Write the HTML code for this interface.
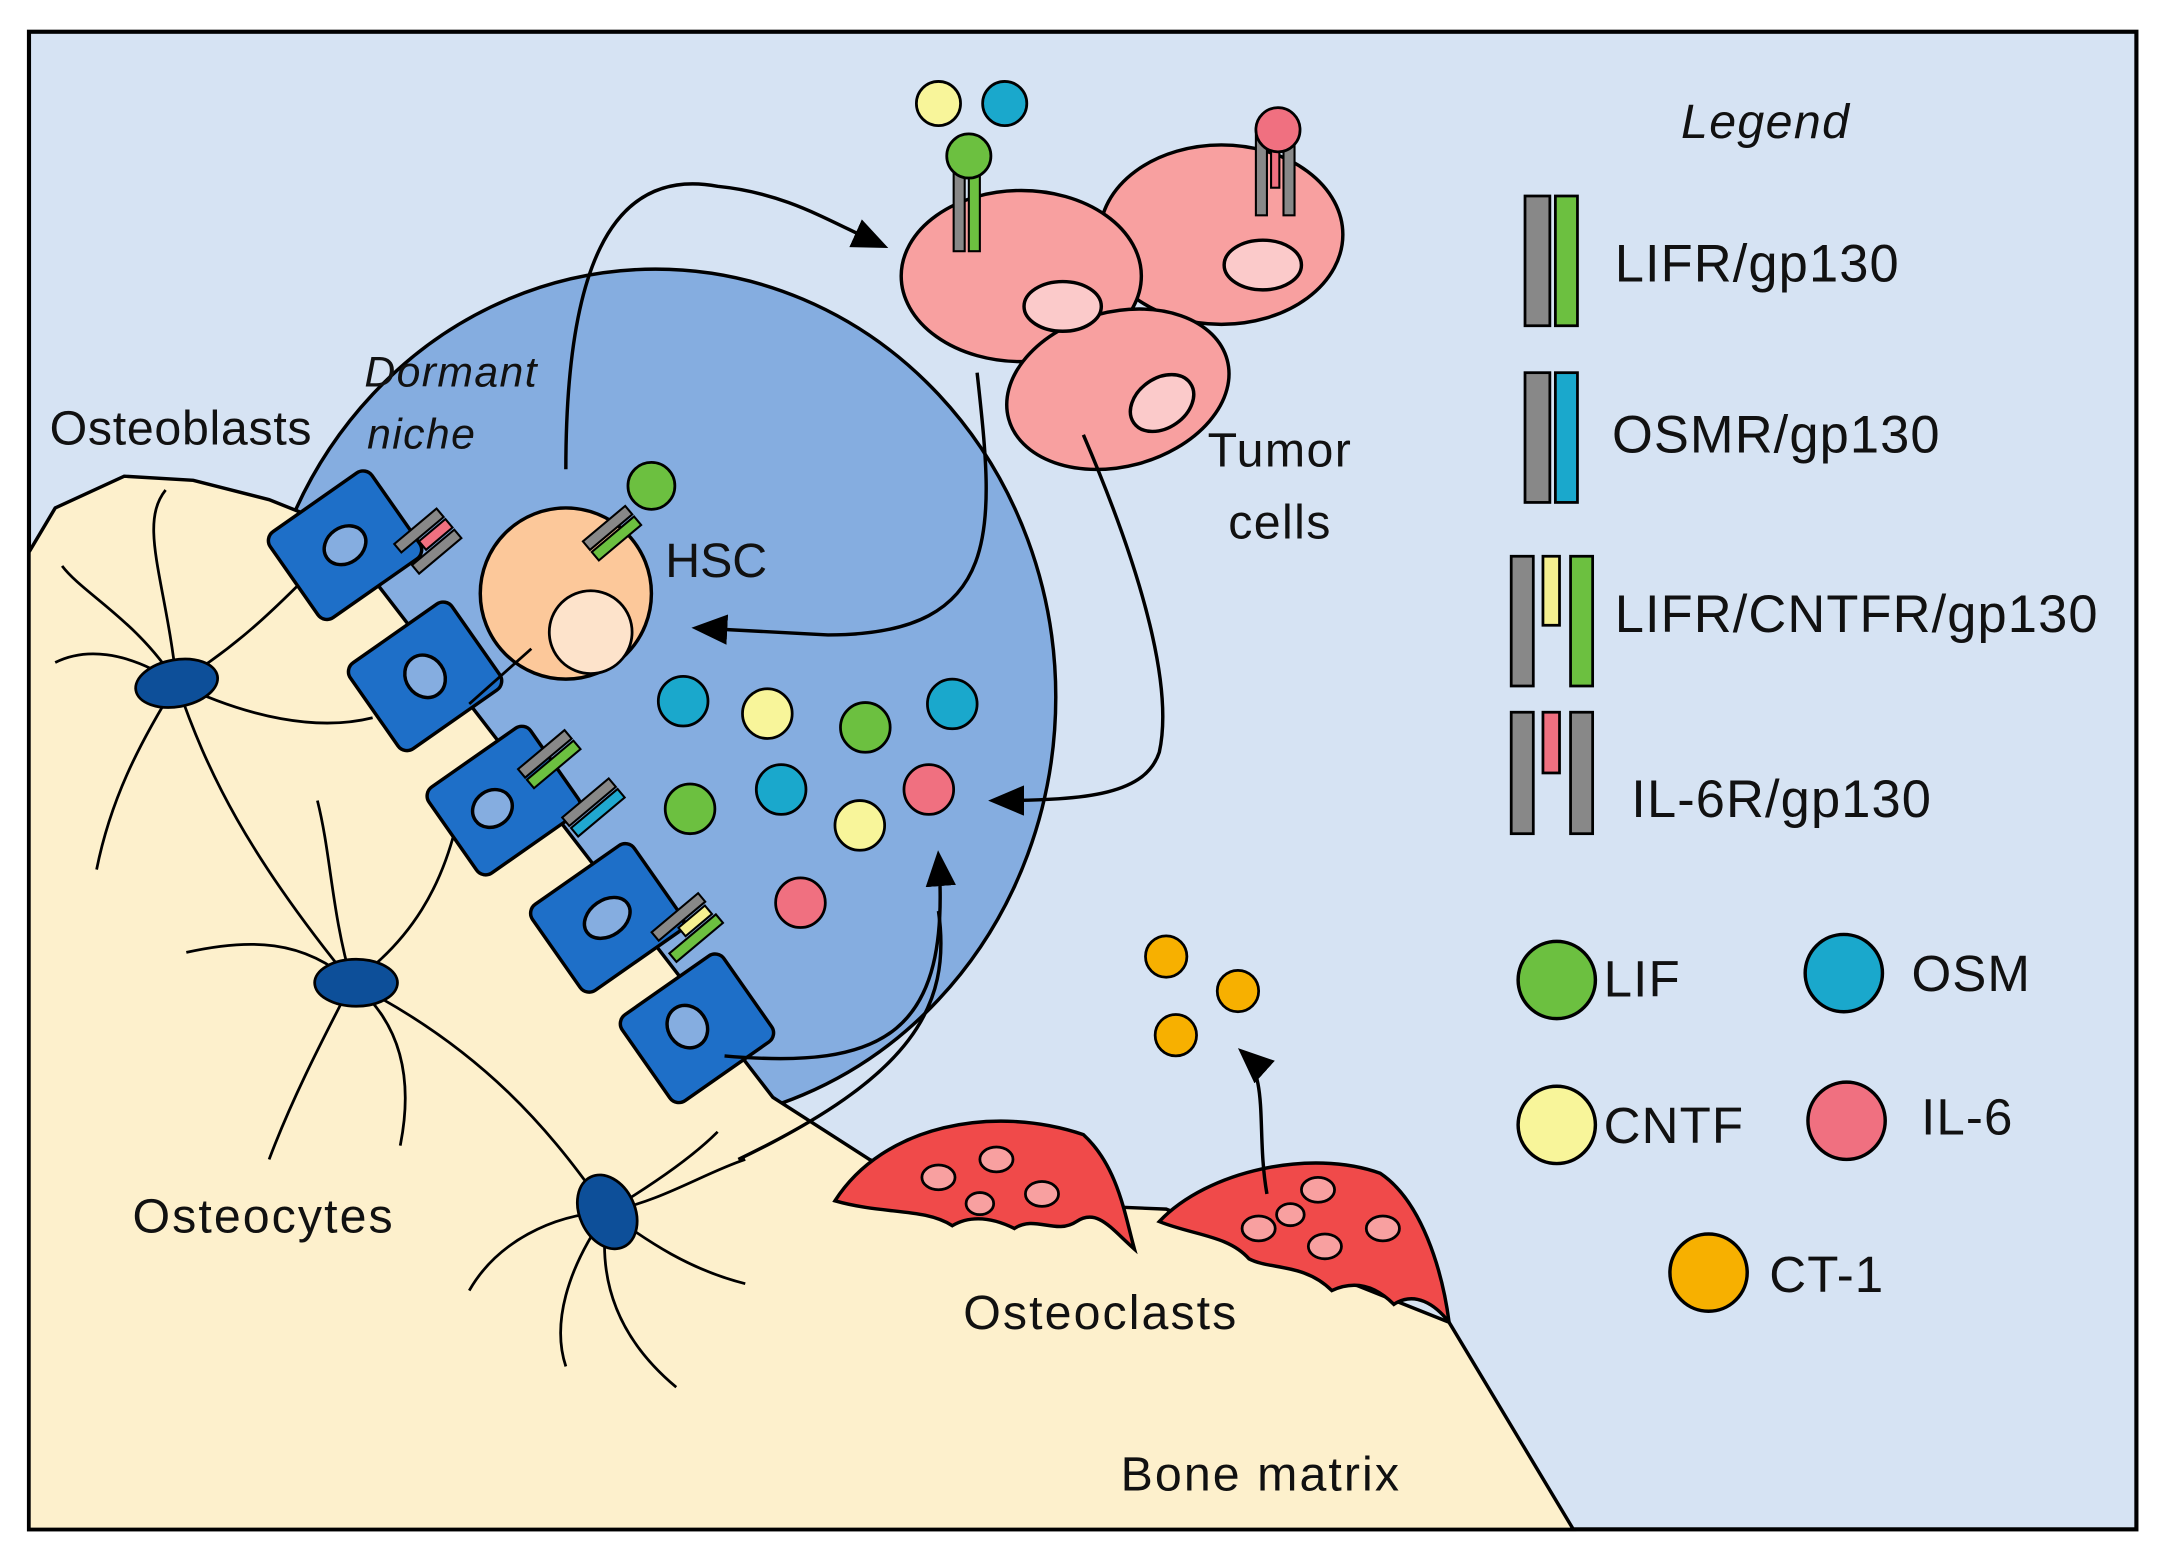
<!DOCTYPE html>
<html><head><meta charset="utf-8"><style>
html,body{margin:0;padding:0;background:#fff}
svg{display:block}
text{font-family:"Liberation Sans",sans-serif;fill:#111}
</style></head><body>
<svg width="2164" height="1568" viewBox="0 0 1568 1136" preserveAspectRatio="none" xmlns="http://www.w3.org/2000/svg">
<defs>
<marker id="ah2" markerWidth="26" markerHeight="22" refX="22" refY="11" orient="auto" markerUnits="userSpaceOnUse" viewBox="0 0 26 22">
<path d="M0,0 L26,11 L0,22 z" fill="#000"/></marker>
</defs>
<rect x="0" y="0" width="1568" height="1136" fill="#fff"/>
<rect x="21" y="23" width="1527" height="1085" fill="#d6e3f3" stroke="#000" stroke-width="3"/>
<ellipse cx="475" cy="505" rx="290" ry="310" fill="#85ade0" stroke="#000" stroke-width="2.5"/>
<path d="M21,400 L40,368 L90,345 L140,348 L195,362 L240,380 L560,795 L630,840 L700,870 L845,876 L1050,958 L1140,1108 L21,1108 Z" fill="#fdf0cc" stroke="#000" stroke-width="2.5"/>
<g fill="none" stroke="#000" stroke-width="2">
<path d="M128,495 C100,450 60,430 45,410"/><path d="M128,495 C120,420 100,380 120,355"/>
<path d="M128,495 C170,470 200,440 220,420"/><path d="M128,495 C180,520 230,530 270,520"/>
<path d="M128,495 C100,540 80,580 70,630"/><path d="M128,495 C150,560 180,620 255,712"/>
<path d="M128,495 C90,470 60,470 40,480"/>
<path d="M255,712 C220,680 180,680 135,690"/><path d="M255,712 C240,660 240,620 230,580"/>
<path d="M255,712 C300,680 320,640 330,600"/><path d="M255,712 C290,740 300,780 290,830"/>
<path d="M255,712 C230,760 210,800 195,840"/><path d="M255,712 C350,760 400,820 440,878"/>
<path d="M440,878 C400,880 360,900 340,935"/><path d="M440,878 C430,940 460,980 490,1005"/>
<path d="M440,878 C410,920 400,960 410,990"/><path d="M440,878 C480,870 510,850 540,840"/>
<path d="M440,878 C470,860 500,840 520,820"/><path d="M440,878 C470,900 500,920 540,930"/>
</g>
<g fill="#0d4f99" stroke="#000" stroke-width="2">
<ellipse cx="128" cy="495" rx="30" ry="17" transform="rotate(-10 128 495)"/>
<ellipse cx="258" cy="712" rx="30" ry="17"/>
<ellipse cx="440" cy="878" rx="20" ry="28" transform="rotate(-25 440 878)"/>
</g>
<g fill="#1e6fc8" stroke="#000" stroke-width="2.5">
<g transform="translate(250,395) rotate(-35)"><rect x="-45" y="-38" width="90" height="76" rx="8"/><ellipse cx="0" cy="0" rx="16" ry="13" fill="#85ade0"/></g>
<g transform="translate(308,490) rotate(-35)"><rect x="-45" y="-38" width="90" height="76" rx="8"/><ellipse cx="0" cy="0" rx="14" ry="16" fill="#85ade0"/></g>
<g transform="translate(365,580) rotate(-35)"><rect x="-45" y="-38" width="90" height="76" rx="8"/><ellipse cx="-10" cy="0" rx="15" ry="13" fill="#85ade0"/></g>
<g transform="translate(440,665) rotate(-35)"><rect x="-45" y="-38" width="90" height="76" rx="8"/><ellipse cx="0" cy="0" rx="18" ry="13" fill="#85ade0"/></g>
<g transform="translate(505,745) rotate(-35)"><rect x="-45" y="-38" width="90" height="76" rx="8"/><ellipse cx="-5" cy="-5" rx="14" ry="16" fill="#85ade0"/></g>
</g>
<g stroke="#000" stroke-width="1.5">
<g transform="translate(310,392) rotate(-40)"><rect x="-20" y="-14" width="40" height="8" fill="#888"/><rect x="-5" y="-4" width="25" height="8" fill="#f07080"/><rect x="-20" y="6" width="40" height="8" fill="#888"/></g>
<g transform="translate(398,550) rotate(-40)"><rect x="-22" y="-9" width="44" height="8" fill="#888"/><rect x="-22" y="1" width="44" height="8" fill="#6cc040"/></g>
<g transform="translate(430,585) rotate(-40)"><rect x="-22" y="-9" width="44" height="8" fill="#888"/><rect x="-22" y="1" width="44" height="8" fill="#20a8d0"/></g>
<g transform="translate(498,672) rotate(-40)"><rect x="-22" y="-14" width="44" height="8" fill="#888"/><rect x="-5" y="-4" width="25" height="8" fill="#f5f090"/><rect x="-22" y="6" width="44" height="8" fill="#6cc040"/></g>
</g>
<circle cx="410" cy="430" r="62" fill="#fcc89a" stroke="#000" stroke-width="2.5"/>
<circle cx="428" cy="458" r="30" fill="#fde3cb" stroke="#000" stroke-width="2"/>
<g transform="translate(445,385) rotate(-40)" stroke="#000" stroke-width="1.5"><rect x="-22" y="-9" width="40" height="8" fill="#888"/><rect x="-22" y="1" width="40" height="8" fill="#6cc040"/></g>
<circle cx="472" cy="352" r="17" fill="#6cc040" stroke="#000" stroke-width="2"/>
<line x1="340" y1="510" x2="385" y2="470" stroke="#000" stroke-width="2"/>
<g stroke="#000" stroke-width="2.5">
<ellipse cx="885" cy="170" rx="88" ry="65" fill="#f8a0a0"/>
<ellipse cx="740" cy="200" rx="87" ry="62" fill="#f8a0a0"/>
<ellipse cx="810" cy="282" rx="82" ry="56" transform="rotate(-15 810 282)" fill="#f8a0a0"/>
<ellipse cx="770" cy="222" rx="28" ry="18" fill="#fbcaca"/>
<ellipse cx="915" cy="192" rx="28" ry="18" fill="#fbcaca"/>
<ellipse cx="842" cy="292" rx="25" ry="18" transform="rotate(-35 842 292)" fill="#fbcaca"/>
</g>
<g stroke="#000" stroke-width="1.5">
<rect x="691" y="120" width="8" height="62" fill="#888"/><rect x="702" y="120" width="8" height="62" fill="#6cc040"/>
<rect x="910" y="98" width="8" height="58" fill="#888"/><rect x="921" y="108" width="6" height="28" fill="#f07080"/><rect x="930" y="98" width="8" height="58" fill="#888"/>
</g>
<circle cx="702" cy="113" r="16" fill="#6cc040" stroke="#000" stroke-width="2"/>
<circle cx="926" cy="94" r="16" fill="#f07080" stroke="#000" stroke-width="2"/>
<circle cx="680" cy="75" r="16" fill="#f8f59a" stroke="#000" stroke-width="2"/>
<circle cx="728" cy="75" r="16" fill="#1aa8cc" stroke="#000" stroke-width="2"/>
<g stroke="#000" stroke-width="2">
<circle cx="495" cy="508" r="18" fill="#1aa8cc"/><circle cx="556" cy="517" r="18" fill="#f8f59a"/>
<circle cx="627" cy="527" r="18" fill="#6cc040"/><circle cx="690" cy="510" r="18" fill="#1aa8cc"/>
<circle cx="500" cy="586" r="18" fill="#6cc040"/><circle cx="566" cy="572" r="18" fill="#1aa8cc"/>
<circle cx="623" cy="598" r="18" fill="#f8f59a"/><circle cx="673" cy="572" r="18" fill="#f07080"/>
<circle cx="580" cy="654" r="18" fill="#f07080"/>
<circle cx="845" cy="693" r="15" fill="#f7b000"/><circle cx="897" cy="718" r="15" fill="#f7b000"/><circle cx="852" cy="750" r="15" fill="#f7b000"/>
</g>
<g stroke="#000" stroke-width="2.5" fill="#f04a4a">
<path d="M605,870 C640,815 720,800 785,822 C810,845 815,880 822,905 C805,890 795,875 780,885 C765,895 750,880 735,890 C715,880 700,882 690,888 C670,875 640,880 605,870 Z"/>
<path d="M840,885 C875,848 950,832 1000,850 C1030,870 1045,920 1050,958 C1040,945 1025,935 1010,945 C995,930 980,928 965,935 C945,915 920,920 905,912 C890,895 865,895 840,885 Z"/>
</g>
<g fill="#f8a0a0" stroke="#000" stroke-width="2">
<ellipse cx="680" cy="853" rx="12" ry="9"/><ellipse cx="722" cy="840" rx="12" ry="9"/><ellipse cx="755" cy="865" rx="12" ry="9"/><ellipse cx="710" cy="872" rx="10" ry="8"/>
<ellipse cx="912" cy="890" rx="12" ry="9"/><ellipse cx="955" cy="862" rx="12" ry="9"/><ellipse cx="960" cy="903" rx="12" ry="9"/><ellipse cx="1002" cy="890" rx="12" ry="9"/><ellipse cx="935" cy="880" rx="10" ry="8"/>
</g>
<g fill="none" stroke="#000" stroke-width="2.5">
<path d="M410,340 C410,200 440,120 520,135 C570,140 600,160 640,178" marker-end="url(#ah2)"/>
<path d="M708,270 C720,380 730,460 600,460 L505,455" marker-end="url(#ah2)"/>
<path d="M785,315 C830,420 850,500 840,545 C830,575 790,580 720,580" marker-end="url(#ah2)"/>
<path d="M525,765 C640,775 690,750 680,620" marker-end="url(#ah2)"/>
<path d="M535,840 C660,780 690,730 680,660"/>
<path d="M918,865 C910,820 920,780 900,762" marker-end="url(#ah2)"/>
</g>
<text x="36" y="322" font-size="35" letter-spacing="0.5">Osteoblasts</text>
<text x="264" y="280" font-size="31" font-style="italic" letter-spacing="1">Dormant</text>
<text x="266" y="325" font-size="31" font-style="italic" letter-spacing="1">niche</text>
<text x="482" y="418" font-size="35">HSC</text>
<text x="875" y="338" font-size="35" letter-spacing="1">Tumor</text>
<text x="890" y="390" font-size="35" letter-spacing="1">cells</text>
<text x="96" y="893" font-size="35" letter-spacing="1.5">Osteocytes</text>
<text x="698" y="963" font-size="35" letter-spacing="1.5">Osteoclasts</text>
<text x="812" y="1080" font-size="35" letter-spacing="1.5">Bone matrix</text>
<text x="1218" y="100" font-size="35" font-style="italic" letter-spacing="1">Legend</text>
<g stroke="#000" stroke-width="2">
<rect x="1105" y="142" width="18" height="94" fill="#888"/><rect x="1127" y="142" width="16" height="94" fill="#6cc040"/>
<rect x="1105" y="270" width="18" height="94" fill="#888"/><rect x="1127" y="270" width="16" height="94" fill="#1aa8cc"/>
<rect x="1095" y="403" width="16" height="94" fill="#888"/><rect x="1118" y="403" width="12" height="50" fill="#f5f090"/><rect x="1138" y="403" width="16" height="94" fill="#6cc040"/>
<rect x="1095" y="516" width="16" height="88" fill="#888"/><rect x="1118" y="516" width="12" height="44" fill="#f07080"/><rect x="1138" y="516" width="16" height="88" fill="#888"/>
</g>
<g font-size="38" letter-spacing="0.8">
<text x="1170" y="204">LIFR/gp130</text>
<text x="1168" y="328">OSMR/gp130</text>
<text x="1170" y="458">LIFR/CNTFR/gp130</text>
<text x="1182" y="592">IL-6R/gp130</text>
</g>
<g stroke="#000" stroke-width="2.5">
<circle cx="1128" cy="710" r="28" fill="#6cc040"/><circle cx="1336" cy="705" r="28" fill="#1aa8cc"/>
<circle cx="1128" cy="815" r="28" fill="#f8f59a"/><circle cx="1338" cy="812" r="28" fill="#f07080"/>
<circle cx="1238" cy="922" r="28" fill="#f7b000"/>
</g>
<g font-size="37" letter-spacing="0.8">
<text x="1162" y="722">LIF</text>
<text x="1385" y="718">OSM</text>
<text x="1162" y="828">CNTF</text>
<text x="1392" y="822">IL-6</text>
<text x="1282" y="936">CT-1</text>
</g>
</svg>
</body></html>
